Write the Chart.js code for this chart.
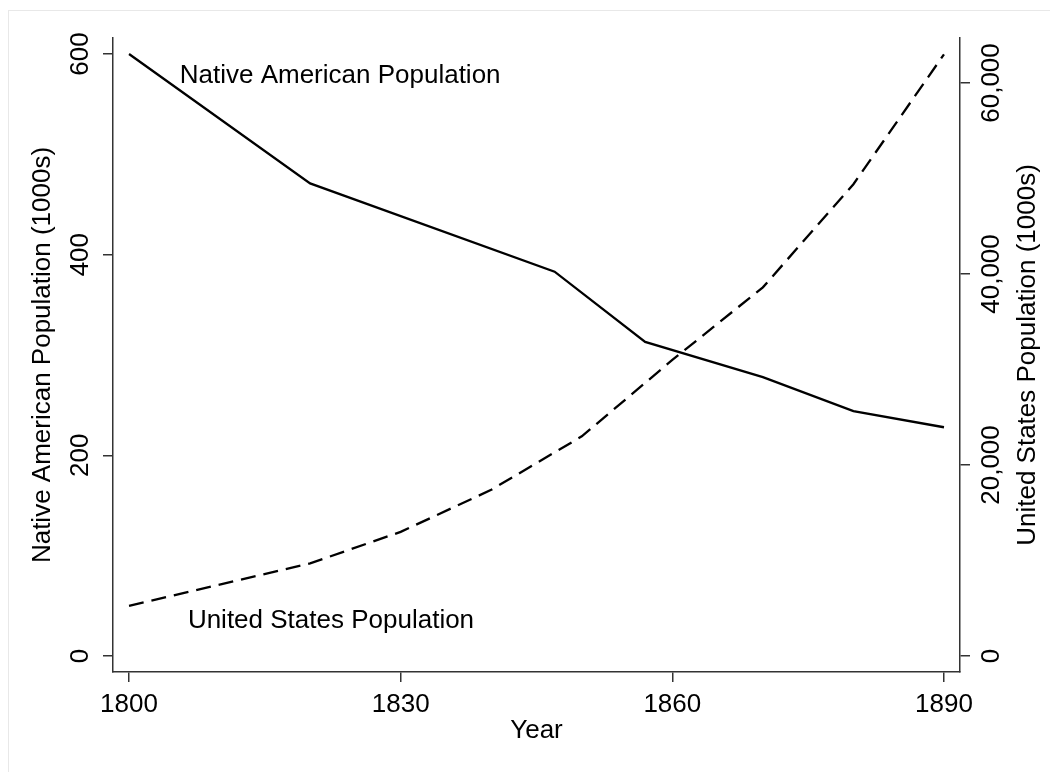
<!DOCTYPE html>
<html>
<head>
<meta charset="utf-8">
<script src="https://cdn.jsdelivr.net/npm/chart.js@4.4.1/dist/chart.umd.min.js"></script>
<style>
  html, body { margin: 0; padding: 0; background: #fff; }
  #wrap { position: relative; width: 1050px; height: 772px; overflow: hidden; }
  #frame { position: absolute; left: 8px; top: 10px; width: 1100px; height: 800px; border: 1px solid #e8e8e8; box-sizing: border-box; }
  #chart { position: absolute; left: 0; top: 0; }
</style>
</head>
<body>
<div id="wrap">
  <div id="frame"></div>
  <canvas id="chart" width="1050" height="772"></canvas>
</div>
<script>
// population in thousands
const nativeYears = [1800, 1820, 1847, 1857, 1870, 1880, 1890];
const nativePop = [600, 471, 383, 313, 278, 244, 228];
const usYears = [1800, 1820, 1830, 1840, 1850, 1860, 1870, 1880, 1890];
const usPop = [5250, 9700, 13000, 17400, 23000, 31000, 38600, 49400, 63000];

const yearTicks = [1800, 1830, 1860, 1890];
const nativeTicks = [0, 200, 400, 600];
const usTicks = [0, 20000, 40000, 60000];

// in-plot series labels, placed in year / left-axis units
const seriesNames = ['Native American Population', 'United States Population'];
const labelYears = [1805.6, 1806.5];
const labelValues = [571, 28];

const FONT = '"Liberation Sans", Arial, Helvetica, sans-serif';
Chart.defaults.font.family = FONT;
Chart.defaults.font.size = 26;
Chart.defaults.font.lineHeight = 1.2;
Chart.defaults.color = '#000';

const axisColor = '#333';

function pts(xs, ys) {
	return xs.map((x, i) => ({ x: x, y: ys[i] }));
}

const textPlugin = {
	id: 'textPlugin',
	afterDraw(chart) {
		const ctx = chart.ctx;
		const x = chart.scales.x, yL = chart.scales.yL, yR = chart.scales.yR;
		const area = chart.chartArea;
		ctx.save();
		ctx.font = '26px ' + FONT;
		ctx.fillStyle = '#000';
		ctx.textAlign = 'left';
		ctx.textBaseline = 'alphabetic';
		seriesNames.forEach((name, i) => {
			ctx.fillText(name, x.getPixelForValue(labelYears[i]), yL.getPixelForValue(labelValues[i]));
		});
		// right axis title reads bottom-to-top, same as the left one
		ctx.translate(yR.right - 22, (area.top + area.bottom) / 2);
		ctx.rotate(-Math.PI / 2);
		ctx.textAlign = 'center';
		ctx.textBaseline = 'middle';
		ctx.fillText('United States Population (1000s)', 0, 0);
		ctx.restore();
	}
};

const axisGrid = {
	drawOnChartArea: false,
	drawTicks: true,
	tickLength: 10,
	color: axisColor,
	lineWidth: 1.5
};
const axisBorder = { display: true, color: axisColor, width: 1.5 };

new Chart(document.getElementById('chart'), {
	type: 'line',
	data: {
		datasets: [{
			label: seriesNames[0],
			data: pts(nativeYears, nativePop),
			yAxisID: 'yL',
			borderColor: '#000',
			borderWidth: 2.3,
			pointRadius: 0,
			tension: 0,
			fill: false
		}, {
			label: seriesNames[1],
			data: pts(usYears, usPop),
			yAxisID: 'yR',
			borderColor: '#000',
			borderWidth: 2.3,
			borderDash: [15, 8],
			pointRadius: 0,
			tension: 0,
			fill: false
		}]
	},
	options: {
		responsive: false,
		animation: false,
		layout: { padding: { top: 38, left: 0, right: 0, bottom: 0 } },
		plugins: {
			legend: { display: false },
			tooltip: { enabled: false }
		},
		scales: {
			x: {
				type: 'linear',
				position: 'bottom',
				min: 1798.23,
				max: 1891.77,
				afterBuildTicks: s => { s.ticks = yearTicks.map(v => ({ value: v })); },
				afterFit: s => { s.height = 100; },
				ticks: { padding: 7, callback: v => String(v) },
				grid: axisGrid,
				border: axisBorder,
				title: { display: true, text: 'Year', padding: { top: 0, bottom: 26 } }
			},
			yL: {
				type: 'linear',
				position: 'left',
				min: -15.9,
				max: 615.9,
				afterBuildTicks: s => { s.ticks = nativeTicks.map(v => ({ value: v })); },
				afterFit: s => { s.width = 113; },
				ticks: { minRotation: 90, maxRotation: 90, crossAlign: 'center', padding: 0 },
				grid: axisGrid,
				border: axisBorder,
				title: { display: true, text: 'Native American Population (1000s)', padding: { top: 27, bottom: 0 } }
			},
			yR: {
				type: 'linear',
				position: 'right',
				min: -1675,
				max: 64712,
				afterBuildTicks: s => { s.ticks = usTicks.map(v => ({ value: v })); },
				afterFit: s => { s.width = 90; },
				ticks: {
					minRotation: 90, maxRotation: 90, crossAlign: 'center', padding: -18,
					callback: v => v.toLocaleString('en-US')
				},
				grid: axisGrid,
				border: axisBorder
			}
		}
	},
	plugins: [textPlugin]
});
</script>
</body>
</html>
